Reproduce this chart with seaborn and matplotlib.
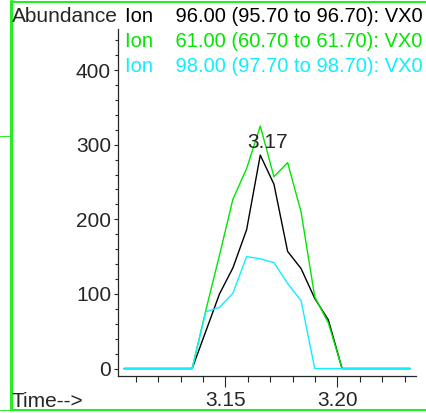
import pandas as pd
import matplotlib.pyplot as plt
import seaborn as sns
from matplotlib.lines import Line2D
from matplotlib.ticker import MultipleLocator

sns.set_style("ticks")
plt.rcParams["font.family"] = ["Liberation Sans", "DejaVu Sans"]
plt.rcParams["font.size"] = 15

# scan times (min) and extracted ion abundances
times = [3.1048, 3.1109, 3.1170, 3.1230, 3.1291, 3.1352, 3.1413, 3.1474,
         3.1534, 3.1595, 3.1656, 3.1717, 3.1778, 3.1838, 3.1899, 3.1960,
         3.2021, 3.2082, 3.2142, 3.2203, 3.2264, 3.2325]
ion96 = [0, 0, 0, 0, 0, 0, 50, 100, 135, 186, 286, 247, 157, 134, 94, 65,
         0, 0, 0, 0, 0, 0]
ion61 = [0, 0, 0, 0, 0, 0, 78, 152, 227, 268, 325, 257, 276, 210, 96, 61,
         0, 0, 0, 0, 0, 0]
ion98 = [0, 0, 0, 0, 0, 0, 76, 82, 101, 150, 147, 142, 114, 91, 0, 0,
         0, 0, 0, 0, 0, 0]

ion_labels = ["Ion    96.00 (95.70 to 96.70): VX0",
              "Ion    61.00 (60.70 to 61.70): VX0",
              "Ion    98.00 (97.70 to 98.70): VX0"]
colors = ["#000000", "#00e600", "#11eeff"]
peak_label = "3.17"

df = pd.concat([
    pd.DataFrame({"Time": times, "Abundance": vals, "Ion": lab})
    for vals, lab in zip([ion96, ion61, ion98], ion_labels)
])

W, H = 426, 413
fig = plt.figure(figsize=(W / 100, H / 100), dpi=100)
ax = fig.add_axes([118 / W, 37 / H, (416 - 118) / W, (376 - 29) / H])

sns.lineplot(data=df, x="Time", y="Abundance", hue="Ion", palette=colors,
             estimator=None, sort=False, linewidth=1.0, legend=False, ax=ax)

ax.set_xlim(3.1021, 3.2351)
ax.set_ylim(-10, 455)
ax.xaxis.set_major_locator(MultipleLocator(0.05))
ax.xaxis.set_minor_locator(MultipleLocator(0.01))
ax.yaxis.set_major_locator(MultipleLocator(100))
ax.yaxis.set_minor_locator(MultipleLocator(20))
ax.xaxis.set_major_formatter(lambda v, _: f"{v:.2f}")
ax.tick_params(axis="x", which="major", length=8, width=0.8, pad=3)
ax.tick_params(axis="x", which="minor", length=4.5, width=0.8)
ax.tick_params(axis="y", which="major", length=3, width=0.8, pad=2)
ax.tick_params(axis="y", which="minor", length=2, width=0.8)
ax.set_xlabel("")
ax.set_ylabel("")
sns.despine(ax=ax)
for s in ["left", "bottom"]:
    ax.spines[s].set_linewidth(0.9)

ipk = ion96.index(max(ion96))
ax.annotate(peak_label, (times[ipk], ion96[ipk]), xytext=(5, 5),
            textcoords="offset points", ha="center", va="baseline")

# header texts
fig.text(12 / W, 1 - 21.7 / H, "Abundance", ha="left", va="baseline")
for i, (lab, c) in enumerate(zip(ion_labels, colors)):
    fig.text(125 / W, 1 - (21.7 + 25 * i) / H, lab, color=c, fontsize=14.5,
             ha="left", va="baseline")
fig.text(12 / W, 1 - 407 / H, "Time-->", ha="left", va="baseline")

# green frame
g = "#22ee22"
def fline(xs, ys, lw):
    fig.add_artist(Line2D([x / W for x in xs], [1 - y / H for y in ys],
                          color=g, lw=lw, transform=fig.transFigure))

fline([11.5, W], [1.5, 1.5], 1.5)
fline([11.5, 11.5], [1, 410], 1.5)
fline([11.5, W], [409.5, 409.5], 1.5)
fline([10, 10], [0, 410], 0.7)
fline([0, 10], [136, 136], 0.7)
fline([0, 10], [409.5, 409.5], 0.7)

fig.savefig("out.png", dpi=100)
